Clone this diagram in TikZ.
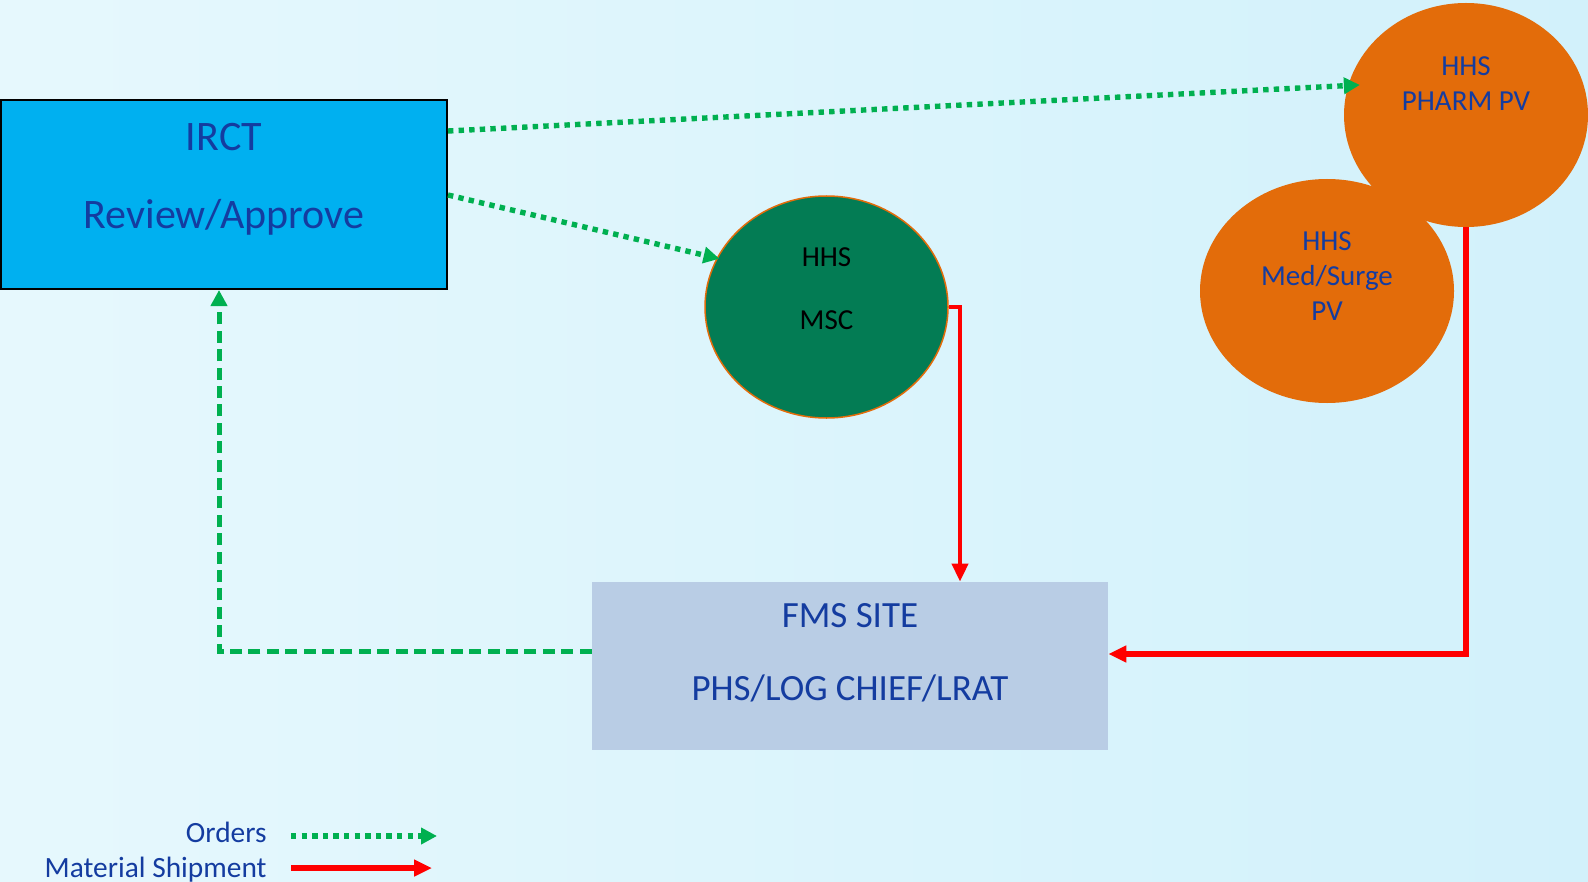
\documentclass[tikz,border=0pt]{standalone}
\usepackage{fontspec}
\setmainfont{Carlito}
\usetikzlibrary{arrows.meta,calc,shapes.geometric}
\newlength{\du}
\setlength{\du}{0.5pt}

\begin{document}
\begin{tikzpicture}[
  plainbox/.style={rectangle,inner sep=0pt,text=dialineblue},
  oval/.style={ellipse,inner sep=0pt,fill=hhsorange,text=dialineblue,font=\fontsize{14.5}{17.5}\selectfont},
  orders/.style={draw=ordergreen,line width=2.7pt,dash pattern=on 2.7pt off 2.6pt,-{Triangle[length=8pt,width=8pt]}},
  shipment/.style={draw=shipred,-{Triangle[length=9pt,width=8pt]}},
  legendtext/.style={anchor=east,inner sep=0pt,text=dialineblue,font=\fontsize{14.7}{17}\selectfont}
]
\pgftransformxscale{1.000000}
\pgftransformyscale{-1.000000}
\definecolor{dialineblue}{RGB}{20,60,160}
\definecolor{irctblue}{RGB}{0,176,240}
\definecolor{mscgreen}{RGB}{3,124,84}
\definecolor{hhsorange}{RGB}{227,108,10}
\definecolor{fmsgrey}{RGB}{185,205,229}
\definecolor{ordergreen}{RGB}{0,176,80}
\definecolor{shipred}{RGB}{255,0,0}
\definecolor{bgleft}{RGB}{230,248,253}
\definecolor{bgright}{RGB}{210,241,251}
\useasboundingbox (0\du,0\du) rectangle (1588.000000\du,882.000000\du);
\shade[left color=bgleft,right color=bgright] (0\du,0\du) rectangle (1588.000000\du,882.000000\du);
% boxes and ovals
\node[plainbox,fill=irctblue,draw=black,line width=1pt,minimum width=446.000000\du,minimum height=189.000000\du,font=\fontsize{21}{25}\selectfont]
  (irct) at (224.000000\du,194.500000\du) {\begin{tabular}{@{}c@{}}IRCT\\[14pt]Review/Approve\\[15pt]\end{tabular}};
\node[oval,fill=mscgreen,draw=hhsorange,line width=0.75pt,text=black,minimum width=243.000000\du,minimum height=222.000000\du]
  (msc) at (826.500000\du,307.000000\du) {\begin{tabular}{@{}c@{}}HHS\\[14pt]MSC\\[16pt]\end{tabular}};
\node[oval,minimum width=254.000000\du,minimum height=224.000000\du]
  (medsurge) at (1327.000000\du,291.000000\du) {\begin{tabular}{@{}c@{}}HHS\\Med/Surge\\PV\\[13pt]\end{tabular}};
\node[oval,minimum width=244.000000\du,minimum height=224.000000\du]
  (pharm) at (1466.000000\du,115.000000\du) {\begin{tabular}{@{}c@{}}HHS\\PHARM PV\\[29pt]\end{tabular}};
\node[plainbox,fill=fmsgrey,minimum width=516.000000\du,minimum height=168.000000\du,font=\fontsize{18.5}{22}\selectfont]
  (fms) at (850.000000\du,666.000000\du) {\begin{tabular}{@{}c@{}}FMS SITE\\[14.5pt]PHS/LOG CHIEF/LRAT\\[11pt]\end{tabular}};
% orders
\draw[orders,shorten >=-6pt] ($(irct.north east)+(0,32.000000\du)$) -- (pharm.166);
\draw[orders,shorten >=-1.5pt] ($(irct.north east)+(0,96.000000\du)$) -- (msc.156);
\draw[orders,dash pattern=on 6pt off 3.2pt,line width=2.5pt] ($(fms.west)+(0,-15.000000\du)$) -| ($(irct.south)+(-5.000000\du,0)$);
% shipments
\draw[shipment,line width=2pt] (msc.east) -| ($(fms.north)+(110.000000\du,0)$);
\draw[shipment,line width=2.8pt] (pharm.south) |- ($(fms.east)+(0,-12.000000\du)$);
% legend
\node[legendtext] (lgorders) at (267.000000\du,832.000000\du) {Orders};
\node[legendtext] (lgship) at (267.000000\du,870.000000\du) {Material Shipment};
\draw[orders] ($(lgorders.east)+(24.000000\du,4.000000\du)$) -- ++(146.000000\du,0);
\draw[shipment,line width=3pt] ($(lgship.east)+(24.000000\du,-2.000000\du)$) -- ++(141.000000\du,0);
\end{tikzpicture}
\end{document}
